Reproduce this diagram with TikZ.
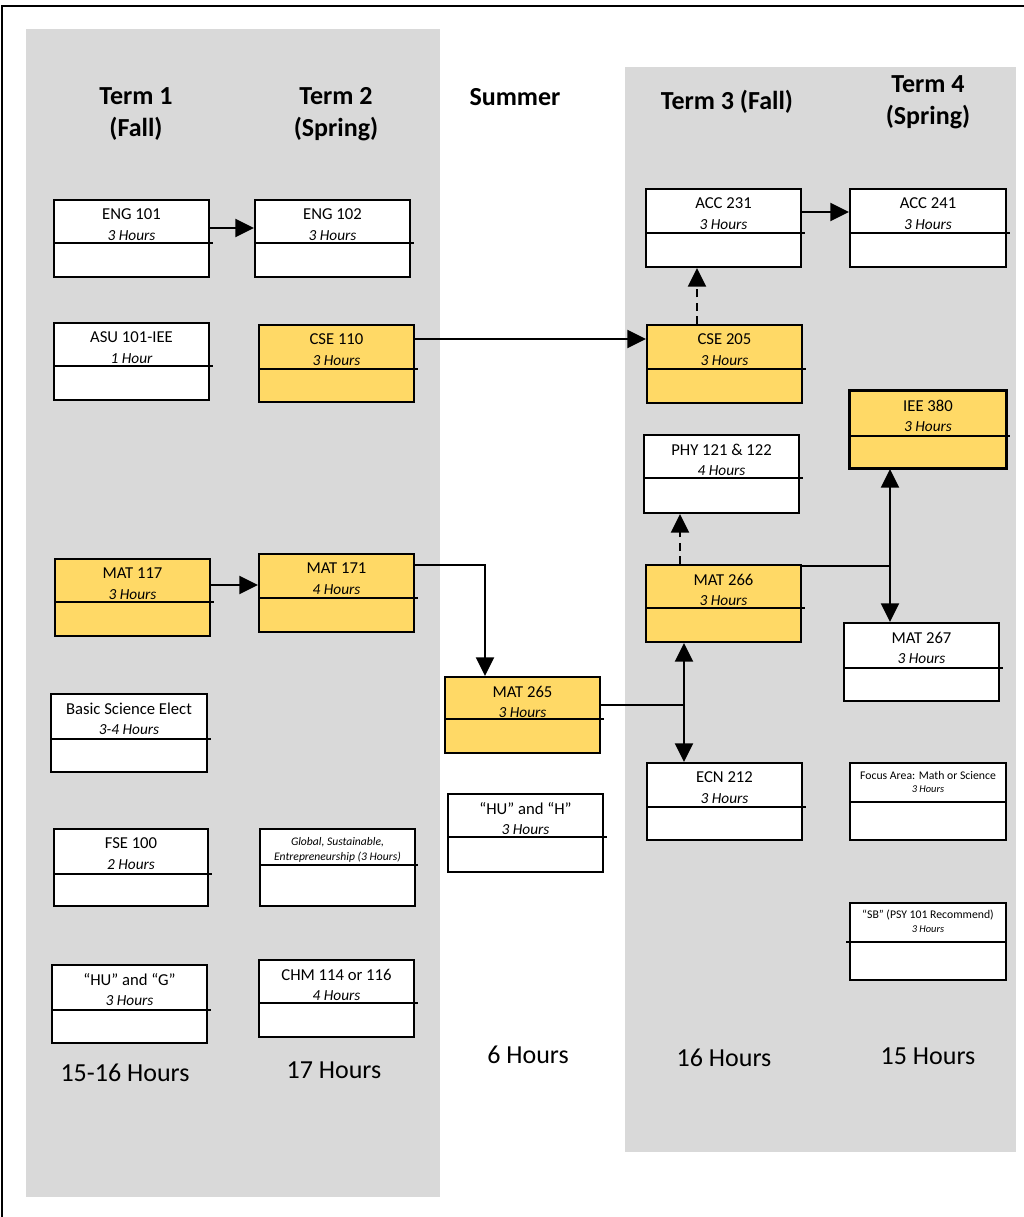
\documentclass[tikz,border=0pt]{standalone}
\usepackage{fontspec}
\setmainfont{Carlito}
\usetikzlibrary{arrows.meta,calc,positioning}
\definecolor{panelgray}{HTML}{D9D9D9}
\definecolor{gold}{HTML}{FFD966}
\def\px{0.75pt}
\tikzset{
  course/.style={draw, line width=1.5pt, inner sep=0pt, anchor=north west},
  divline/.style={line width=1.5pt},
  ctitle/.style={font=\fontsize{12.5}{15}\selectfont, inner sep=0pt},
  chours/.style={font=\fontsize{11.5}{14}\selectfont\itshape, inner sep=0pt},
  smalltitle/.style={font=\fontsize{8.8}{10.5}\selectfont, inner sep=0pt},
  smallhours/.style={font=\fontsize{7.8}{9}\selectfont\itshape, inner sep=0pt},
  hdr/.style={font=\fontsize{19.5}{24}\selectfont\bfseries, align=center, inner sep=0pt},
  total/.style={font=\fontsize{19.5}{24}\selectfont, inner sep=0pt},
  conn/.style={line width=1.5pt},
  arr/.style={conn, -{Triangle[length=14pt,width=13.5pt]}},
  dasharr/.style={arr, dash pattern=on 6pt off 4pt},
}
\begin{document}
\begin{tikzpicture}[x=0.75pt,y=-0.75pt]
\useasboundingbox (0,0) rectangle (1024,1217);

%% frame and term panels
\draw[line width=1.5pt] (2,1217) -- (2,6) -- (1024,6);
\fill[panelgray] (26,29) rectangle (440,1197);
\fill[panelgray] (625,67) rectangle (1016,1152);

%% headers
\node[hdr] (term1) at (136,114) {Term 1\\(Fall)};
\node[hdr] (term2) at (336,114) {Term 2\\(Spring)};
\node[hdr] (summer) at (515,97) {Summer};
\node[hdr] (term3) at (727,102) {Term 3 (Fall)};
\node[hdr] (term4) at (928,102) {Term 4\\(Spring)};

%% courses
\foreach \nm/\xa/\ya/\xb/\yb/\d/\col/\t/\h in {
  eng101/53/199/208/276/44/white/ENG 101/3 Hours,
  asu101/53/322/208/399/44/white/ASU 101-IEE/1 Hour,
  mat117/54/558/209/635/44/gold/MAT 117/3 Hours,
  basicsci/50/693/206/771/46/white/Basic Science Elect/3-4 Hours,
  fse100/53/828/207/905/46/white/FSE 100/2 Hours,
  hug/51/964/206/1042/46/white/{“HU” and “G”}/3 Hours,
  eng102/254/199/409/276/44/white/ENG 102/3 Hours,
  cse110/258/324/413/401/45/gold/CSE 110/3 Hours,
  mat171/258/553/413/631/45/gold/MAT 171/4 Hours,
  chm114/258/959/413/1036/44/white/CHM 114 or 116/4 Hours,
  mat265/444/676/599/752/43/gold/MAT 265/3 Hours,
  huh/447/793/602/871/44/white/{“HU” and “H”}/3 Hours,
  acc231/645/188/800/266/45/white/ACC 231/3 Hours,
  cse205/646/324/801/402/45/gold/CSE 205/3 Hours,
  phy121/643/434/798/512/44/white/PHY 121 \& 122/4 Hours,
  mat266/645/564/800/641/44/gold/MAT 266/3 Hours,
  ecn212/646/762/801/839/45/white/ECN 212/3 Hours,
  acc241/849/188/1005/266/45/white/ACC 241/3 Hours,
  iee380/849/390/1005/467/46/gold/IEE 380/3 Hours,
  mat267/843/622/998/700/46/white/MAT 267/3 Hours}
{
  \node[course, fill=\col, minimum width={(\xb-\xa)*\px}, minimum height={(\yb-\ya)*\px}] (\nm) at (\xa,\ya) {};
  \draw[divline] ([yshift=-\d*\px]\nm.north west) -- ([yshift=-\d*\px, xshift=3*\px]\nm.north east);
  \node[ctitle] (\nm-t) at ([yshift=-15.5*\px]\nm.north) {\t};
  \node[chours] (\nm-h) at ([yshift=-36.5*\px]\nm.north) {\h};
}
\draw[line width=2.2pt] (iee380.north west) rectangle (iee380.south east);

% boxes with small print
\node[course, fill=white, minimum width=155*\px, minimum height=77*\px] (gse) at (259,828) {};
\draw[divline] ([yshift=-37*\px]gse.north west) -- ([yshift=-37*\px, xshift=2*\px]gse.north east);
\node[font=\fontsize{8.7}{11.25}\selectfont\itshape, align=center, inner sep=0pt] (gse-t) at ([yshift=-21.5*\px]gse.north) {Global, Sustainable,\\Entrepreneurship (3 Hours)};

\node[course, fill=white, minimum width=156*\px, minimum height=77*\px] (focus) at (849,762) {};
\draw[divline] ([yshift=-40*\px]focus.north west) -- ([yshift=-40*\px]focus.north east);
\node[smalltitle] (focus-t) at ([yshift=-13*\px]focus.north) {Focus Area: Math or Science};
\node[smallhours] (focus-h) at ([yshift=-27.5*\px]focus.north) {3 Hours};

\node[course, fill=white, minimum width=156*\px, minimum height=77*\px] (sb) at (849,902) {};
\draw[divline] ([yshift=-40*\px, xshift=-3*\px]sb.north west) -- ([yshift=-40*\px]sb.north east);
\node[smalltitle] (sb-t) at ([yshift=-13*\px]sb.north) {“SB” (PSY 101 Recommend)};
\node[smallhours] (sb-h) at ([yshift=-27.5*\px]sb.north) {3 Hours};

%% term totals
\node[total] (tot1) at (125,1073) {15-16 Hours};
\node[total] (tot2) at (334,1070) {17 Hours};
\node[total] (tots) at (528,1055) {6 Hours};
\node[total] (tot3) at (724,1058) {16 Hours};
\node[total] (tot4) at (928,1056) {15 Hours};

%% prerequisites
\draw[arr] ([yshift=-29*\px]eng101.north east) -- ([yshift=-29*\px]eng102.north west);
\draw[arr] ([yshift=-15*\px]cse110.north east) -- ([yshift=-15*\px]cse205.north west);
\draw[arr] ([yshift=-24*\px]acc231.north east) -- ([yshift=-24*\px]acc241.north west);
\draw[arr] ([yshift=-27*\px]mat117.north east) -- ([yshift=-32*\px]mat171.north west);
\draw[dasharr] ([xshift=51*\px]cse205.north west) -- ([xshift=52*\px]acc231.south west);
\draw[dasharr] ([xshift=35*\px]mat266.north west) -- ([xshift=37*\px]phy121.south west);

\coordinate (j0) at (485,565);
\draw[arr] (mat171.east |- j0) -- (j0) -- (j0 |- mat265.north);

\coordinate (j1) at (684,705);
\draw[arr] (mat265.east |- j1) -- (j1) -- (j1 |- mat266.south);
\draw[arr] (j1) -- (j1 |- ecn212.north);

\coordinate (j2) at (890,566);
\draw[arr] (mat266.east |- j2) -- (j2) -- (j2 |- iee380.south);
\draw[arr] (j2) -- (j2 |- mat267.north);
\end{tikzpicture}
\end{document}
